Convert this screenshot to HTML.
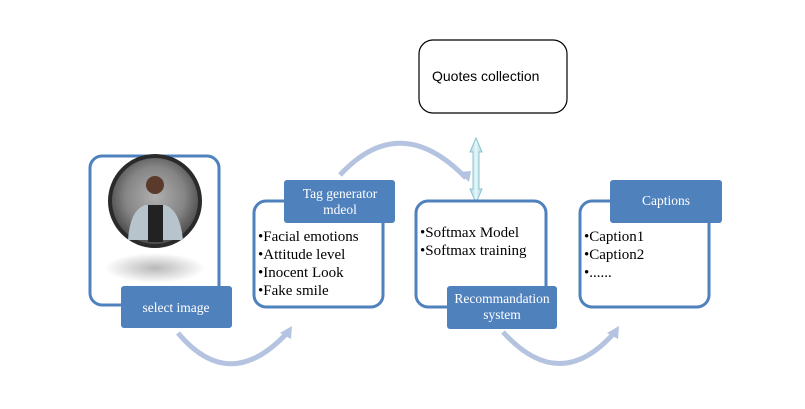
<!DOCTYPE html>
<html><head><meta charset="utf-8"><style>
html,body{margin:0;padding:0;background:#fff;width:805px;height:409px;overflow:hidden}
svg{display:block}
.b{font-family:"Liberation Serif",serif;font-size:15px;fill:#000}
.l{font-family:"Liberation Serif",serif;font-size:13.5px;fill:#fff}
</style></head><body>
<svg width="805" height="409" viewBox="0 0 805 409" xmlns="http://www.w3.org/2000/svg">
<defs>
<radialGradient id="sh" cx="50%" cy="50%" r="50%"><stop offset="0" stop-color="#b8b8b8"/><stop offset="1" stop-color="#fff"/></radialGradient>
<radialGradient id="ph" cx="50%" cy="45%" r="55%"><stop offset="0" stop-color="#b0b0b0"/><stop offset="0.6" stop-color="#858585"/><stop offset="1" stop-color="#444"/></radialGradient>
<linearGradient id="da" x1="0" x2="1"><stop offset="0" stop-color="#a9d8e0"/><stop offset="0.5" stop-color="#e6f6f8"/><stop offset="1" stop-color="#a9d8e0"/></linearGradient>
</defs>
<g fill="none" stroke="#b4c4e0" stroke-width="5">
<path d="M178,333 Q230,395 288,332"/>
<path d="M340,175 Q400,110 466,178"/>
<path d="M503,332 Q560,395 615,332"/>
</g>
<g fill="#b4c4e0">
<polygon points="292,326 280,333 291,339"/>
<polygon points="469,182 459,172 471,171"/>
<polygon points="619,326 607,333 618,339"/>
</g>
<rect x="419" y="40" width="148" height="73" rx="14" fill="#fff" stroke="#000" stroke-width="1.2"/>
<text x="432" y="81" font-family="Liberation Sans,sans-serif" font-size="14">Quotes collection</text>
<polygon points="476,138 482,152 479,152 479,189 482,189 476,203 470,189 473,189 473,152 470,152" fill="url(#da)" stroke="#8cc4ce" stroke-width="1"/>
<g fill="#fff" stroke="#4f81bd" stroke-width="3">
<rect x="90" y="156" width="129" height="149" rx="12"/>
<rect x="254" y="201" width="129" height="106" rx="12"/>
<rect x="416" y="201" width="130" height="106" rx="12"/>
<rect x="580" y="201" width="129" height="106" rx="12"/>
</g>
<ellipse cx="155" cy="268" rx="50" ry="15" fill="url(#sh)"/>
<circle cx="155" cy="201" r="45" fill="url(#ph)" stroke="#2a2a2a" stroke-width="4"/>
<path d="M128,240 Q130,210 145,205 L165,205 Q180,210 183,240 Z" fill="#b8c4cc"/>
<rect x="148" y="205" width="15" height="37" fill="#222"/>
<circle cx="155" cy="185" r="9" fill="#5a3a2a"/>
<g fill="#4f81bd">
<rect x="121" y="286" width="111" height="42" rx="3"/>
<rect x="284" y="180" width="111" height="43" rx="3"/>
<rect x="447" y="286" width="110" height="43" rx="3"/>
<rect x="610" y="180" width="112" height="43" rx="3"/>
</g>
<text class="l" x="176" y="312" text-anchor="middle">select image</text>
<text class="l" x="340" y="198" text-anchor="middle">Tag generator</text>
<text class="l" x="340" y="214" text-anchor="middle">mdeol</text>
<text class="l" x="502" y="303" text-anchor="middle">Recommandation</text>
<text class="l" x="502" y="319" text-anchor="middle">system</text>
<text class="l" x="666" y="205" text-anchor="middle">Captions</text>
<text class="b" x="258" y="241">•Facial emotions</text>
<text class="b" x="258" y="259">•Attitude level</text>
<text class="b" x="258" y="277">•Inocent Look</text>
<text class="b" x="258" y="295">•Fake smile</text>
<text class="b" x="420" y="237">•Softmax Model</text>
<text class="b" x="420" y="255">•Softmax training</text>
<text class="b" x="584" y="241">•Caption1</text>
<text class="b" x="584" y="259">•Caption2</text>
<text class="b" x="584" y="277">•......</text>
</svg>
</body></html>
